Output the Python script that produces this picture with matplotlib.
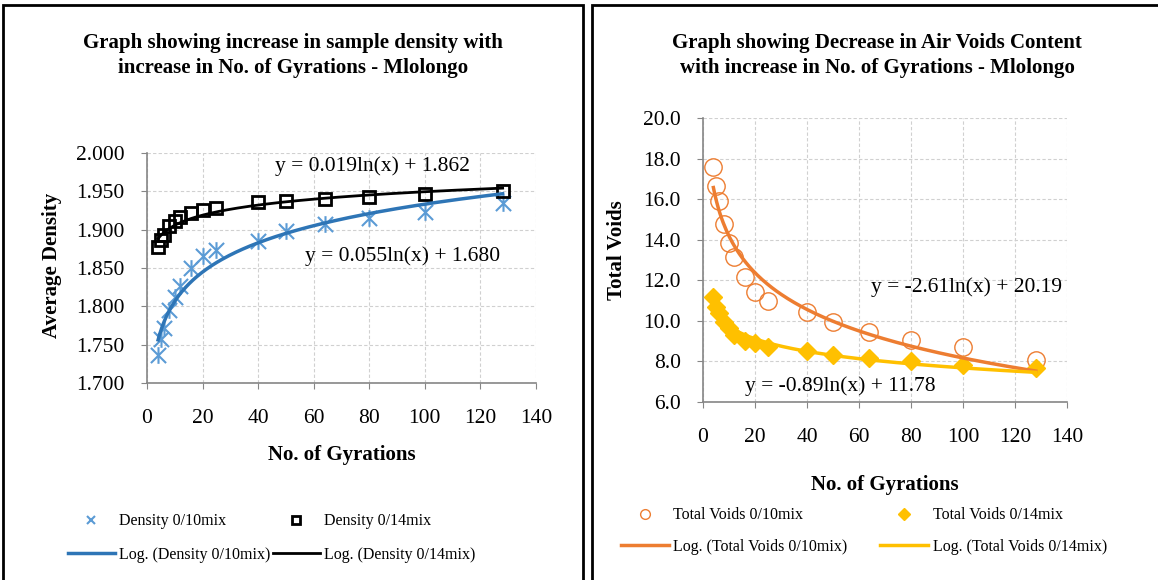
import matplotlib
matplotlib.use("Agg")
import matplotlib.pyplot as plt
import numpy as np
from matplotlib.patches import Rectangle
from matplotlib.lines import Line2D
from matplotlib.path import Path

plt.rcParams['font.family'] = ['Liberation Serif', 'DejaVu Serif']

# data
gyrations = [4, 5, 6, 8, 10, 12, 16, 20, 25, 40, 50, 64, 80, 100, 128]
density_10 = [1.737, 1.758, 1.772, 1.795, 1.812, 1.826, 1.850, 1.865, 1.874,
              1.885, 1.898, 1.908, 1.915, 1.923, 1.935]
density_14 = [1.878, 1.887, 1.893, 1.905, 1.911, 1.916, 1.922, 1.926, 1.928,
              1.936, 1.938, 1.940, 1.943, 1.947, 1.950]
voids_10 = [17.57, 16.65, 15.91, 14.77, 13.82, 13.13, 12.18, 11.44, 10.99,
            10.45, 9.93, 9.43, 9.06, 8.70, 8.07]
voids_14 = [11.16, 10.70, 10.37, 9.96, 9.63, 9.30, 9.01, 8.89, 8.70,
            8.51, 8.32, 8.15, 8.02, 7.82, 7.69]

# trendline coefficients shown on the chart: y = a*ln(x) + b
fit_d10 = (0.055, 1.680)
fit_d14 = (0.019, 1.862)
fit_v10 = (-2.61, 20.19)
fit_v14 = (-0.89, 11.78)

W, H = 1158, 580
fig = plt.figure(figsize=(W / 100, H / 100), dpi=100)

def fx(px):
    return px / W

def fy(py):
    return 1 - py / H

# panel borders
fig.add_artist(Rectangle((fx(3), fy(600)), fx(580), fy(5) - fy(600), transform=fig.transFigure,
                         fill=False, lw=2, ec='black'))
fig.add_artist(Rectangle((fx(592), fy(600)), fx(600), fy(5) - fy(600), transform=fig.transFigure,
                         fill=False, lw=2, ec='black'))

# excel style "*" marker: an X with a vertical bar
star = Path([(-1, -1), (1, 1), (-1, 1), (1, -1), (0, -1.1), (0, 1.1)],
            [Path.MOVETO, Path.LINETO, Path.MOVETO, Path.LINETO, Path.MOVETO, Path.LINETO])

xs = np.linspace(4, 128, 200)
grid_kw = dict(color='#d0d0d0', linestyle=(0, (3, 2)), linewidth=0.8)
TICK_FS = 15.5
LABEL_FS = 15
TITLE_FS = 15
LEG_FS = 11.5


def style_axes(ax):
    ax.spines['top'].set_visible(False)
    ax.spines['right'].set_visible(False)
    for s in ['left', 'bottom']:
        ax.spines[s].set_color('#868686')
        ax.spines[s].set_linewidth(1.2)
    ax.grid(True, **grid_kw)
    ax.set_axisbelow(True)
    ax.tick_params(axis='both', direction='out', length=4, color='#868686', labelsize=TICK_FS)
    ax.tick_params(axis='y', pad=12)
    ax.tick_params(axis='x', pad=15)
    ax.set_xlim(0, 140)
    ax.set_xticks(range(0, 141, 20))


# ---- left chart: density ----
ax1 = fig.add_axes([fx(147), fy(383), fx(389), fy(153) - fy(383)])
style_axes(ax1)
ax1.set_ylim(1.700, 2.000)
ax1.set_yticks(np.arange(1.700, 2.0001, 0.050))
ax1.yaxis.set_major_formatter(matplotlib.ticker.FormatStrFormatter('%.3f'))

blue_pt = '#5B9BD5'
blue_ln = '#2E75B6'
ax1.plot(gyrations, density_10, linestyle='none', marker=star, ms=12, mew=1.5, color=blue_pt)
ax1.plot(gyrations, density_14, linestyle='none', marker='s', ms=8.5, mew=2, mfc='none', mec='black')
ax1.plot(xs, fit_d10[0] * np.log(xs) + fit_d10[1], color=blue_ln, lw=2.5)
ax1.plot(xs, fit_d14[0] * np.log(xs) + fit_d14[1], color='black', lw=2)
ax1.text(81, 1.983, 'y = 0.019ln(x) + 1.862', fontsize=TICK_FS, ha='center', va='center')
ax1.text(92, 1.866, 'y = 0.055ln(x) + 1.680', fontsize=TICK_FS, ha='center', va='center')
ax1.set_xlabel('No. of Gyrations', fontsize=LABEL_FS, fontweight='bold', labelpad=12)
ax1.set_ylabel('Average Density', fontsize=LABEL_FS, fontweight='bold')
ax1.yaxis.set_label_coords((62 - 147) / 389, 0.513)

fig.text(fx(293), fy(43), 'Graph showing increase in sample density with',
         fontsize=TITLE_FS, fontweight='bold', ha='center', va='center')
fig.text(fx(293), fy(68), 'increase in No. of Gyrations - Mlolongo',
         fontsize=TITLE_FS, fontweight='bold', ha='center', va='center')

h1 = [Line2D([], [], linestyle='none', marker='x', ms=6, mew=1.5, color=blue_pt),
      Line2D([], [], color=blue_ln, lw=2.5),
      Line2D([], [], linestyle='none', marker='s', ms=6, mew=2, mfc='none', mec='black'),
      Line2D([], [], color='black', lw=2)]
l1 = ['Density 0/10mix', 'Log. (Density 0/10mix)', 'Density 0/14mix', 'Log. (Density 0/14mix)']
fig.legend(h1, l1, ncol=2, loc='center', bbox_to_anchor=(fx(272), fy(538)), frameon=False,
           fontsize=LEG_FS, handlelength=2.9, handletextpad=0.3, columnspacing=0.15, labelspacing=1.1)

# ---- right chart: air voids ----
ax2 = fig.add_axes([fx(703), fy(402), fx(364), fy(118) - fy(402)])
style_axes(ax2)
ax2.set_ylim(6.0, 20.0)
ax2.set_yticks(np.arange(6.0, 20.01, 2.0))
ax2.yaxis.set_major_formatter(matplotlib.ticker.FormatStrFormatter('%.1f'))

orange = '#ED7D31'
yellow = '#FFC000'
ax2.plot(gyrations, voids_10, linestyle='none', marker='o', ms=12.5, mew=1, mfc='none', mec=orange)
ax2.plot(gyrations, voids_14, linestyle='none', marker='D', ms=9, color=yellow)
ax2.plot(xs, fit_v10[0] * np.log(xs) + fit_v10[1], color=orange, lw=2.5)
ax2.plot(xs, fit_v14[0] * np.log(xs) + fit_v14[1], color=yellow, lw=2.5)
ax2.text(101.5, 11.67, 'y = -2.61ln(x) + 20.19', fontsize=TICK_FS, ha='center', va='center')
ax2.text(52.7, 6.79, 'y = -0.89ln(x) + 11.78', fontsize=TICK_FS, ha='center', va='center')
ax2.set_xlabel('No. of Gyrations', fontsize=LABEL_FS, fontweight='bold', labelpad=20)
ax2.set_ylabel('Total Voids', fontsize=LABEL_FS, fontweight='bold')
ax2.yaxis.set_label_coords((627 - 703) / 364, 0.535)

fig.text(fx(877), fy(43), 'Graph showing Decrease in Air Voids Content',
         fontsize=TITLE_FS, fontweight='bold', ha='center', va='center')
fig.text(fx(877), fy(68), 'with increase in No. of Gyrations - Mlolongo',
         fontsize=TITLE_FS, fontweight='bold', ha='center', va='center')

h2 = [Line2D([], [], linestyle='none', marker='o', ms=7, mew=1, mfc='none', mec=orange),
      Line2D([], [], color=orange, lw=2.5),
      Line2D([], [], linestyle='none', marker='D', ms=6, color=yellow),
      Line2D([], [], color=yellow, lw=2.5)]
l2 = ['Total Voids 0/10mix', 'Log. (Total Voids 0/10mix)', 'Total Voids 0/14mix',
      'Log. (Total Voids 0/14mix)']
fig.legend(h2, l2, ncol=2, loc='center', bbox_to_anchor=(fx(864), fy(531)), frameon=False,
           fontsize=LEG_FS, handlelength=3.0, handletextpad=0.3, columnspacing=2.05, labelspacing=0.95)

fig.savefig('out.png', dpi=100)
